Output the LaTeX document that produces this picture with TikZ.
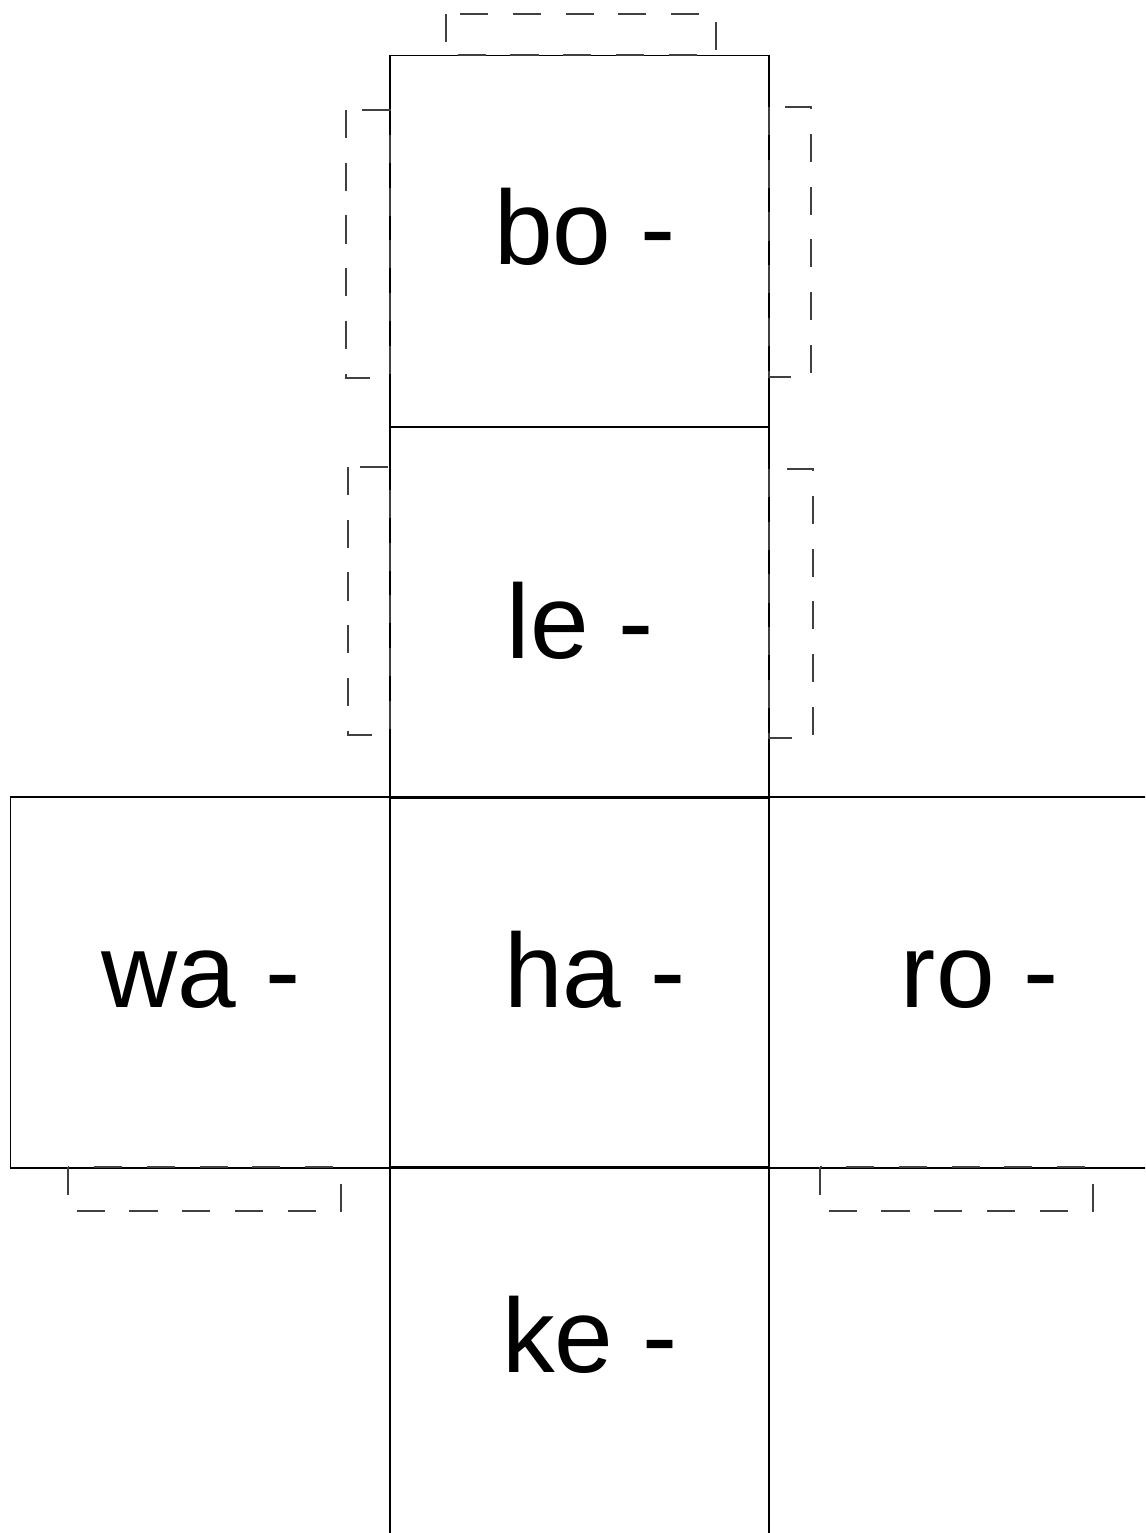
\documentclass[tikz,border=0pt]{standalone}
\usepackage{fontspec}
\setmainfont{Liberation Sans}
\usepackage{tikz}

\tikzset{
  face/.style={draw, rectangle, inner sep=0pt, line width=1pt,
    minimum width=7.58cm, minimum height=7.42cm},
  flap/.style={draw=black!75, line width=0.8pt, dash pattern=on 16pt off 14pt},
  lbl/.style={inner sep=0pt, anchor=base, font=\fontsize{60}{72}\selectfont}
}

\begin{document}
\begin{tikzpicture}[x=0.02cm, y=-0.02cm]
      \clip (0,0) rectangle (1145,1533);
      % faces of the net
      \node[face] (bo) at (579.5,241) {};
      \node[face] (le) at (579.5,612.5) {};
      \node[face] (ha) at (579.5,982.5) {};
      \node[face] (wa) at (200,982.5) {};
      \node[face] (ro) at (958.5,982.5) {};
      \node[face] (ke) at (579.5,1352.5) {};

      \node[lbl] (bolbl) at (585,265) {bo -};
      \node[lbl] (lelbl) at (580,658) {le -};
      \node[lbl] (halbl) at (595,1007) {ha -};
      \node[lbl] (walbl) at (201,1007) {wa -};
      \node[lbl] (rolbl) at (980,1007) {ro -};
      \node[lbl] (kelbl) at (590,1372) {ke -};

      % glue flaps
      \draw[flap] (446,14) rectangle (716,55);
      \draw[flap] (346,110) rectangle (390,378);
      \draw[flap] (769,107) rectangle (811,377);
      \draw[flap] (348,467) rectangle (390,735);
      \draw[flap] (769,469) rectangle (813,738);
      \draw[flap] (68,1167) rectangle (341,1211);
      \draw[flap] (820,1167) rectangle (1093,1211);
\end{tikzpicture}
\end{document}
